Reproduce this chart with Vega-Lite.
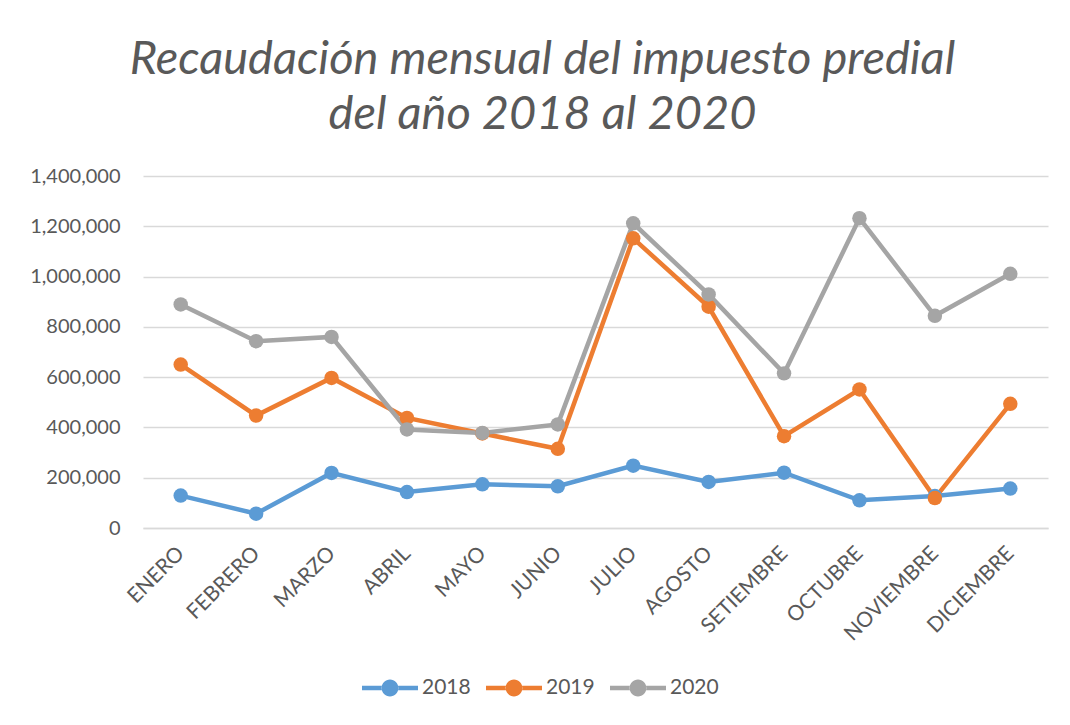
{
  "$schema": "https://vega.github.io/schema/vega-lite/v6.json",
  "width": 905,
  "height": 352,
  "autosize": "none",
  "padding": {"left": 143, "top": 176, "right": 22, "bottom": 197},
  "background": "white",
  "title": {
    "text": ["Recaudación mensual del impuesto predial", "del año 2018 al 2020"],
    "font": "Lato",
    "fontSize": 47,
    "fontStyle": "italic",
    "fontWeight": "normal",
    "color": "#595959",
    "lineHeight": 55,
    "anchor": "middle",
    "frame": "group",
    "dx": -53,
    "offset": 27
  },
  "data": {
    "values": [
      {"mes": "ENERO", "anio": "2018", "valor": 129000},
      {"mes": "FEBRERO", "anio": "2018", "valor": 57000},
      {"mes": "MARZO", "anio": "2018", "valor": 219000},
      {"mes": "ABRIL", "anio": "2018", "valor": 143000},
      {"mes": "MAYO", "anio": "2018", "valor": 174000},
      {"mes": "JUNIO", "anio": "2018", "valor": 166000},
      {"mes": "JULIO", "anio": "2018", "valor": 248000},
      {"mes": "AGOSTO", "anio": "2018", "valor": 183000},
      {"mes": "SETIEMBRE", "anio": "2018", "valor": 220000},
      {"mes": "OCTUBRE", "anio": "2018", "valor": 110000},
      {"mes": "NOVIEMBRE", "anio": "2018", "valor": 127000},
      {"mes": "DICIEMBRE", "anio": "2018", "valor": 157000},
      {"mes": "ENERO", "anio": "2019", "valor": 650000},
      {"mes": "FEBRERO", "anio": "2019", "valor": 447000},
      {"mes": "MARZO", "anio": "2019", "valor": 597000},
      {"mes": "ABRIL", "anio": "2019", "valor": 438000},
      {"mes": "MAYO", "anio": "2019", "valor": 376000},
      {"mes": "JUNIO", "anio": "2019", "valor": 315000},
      {"mes": "JULIO", "anio": "2019", "valor": 1152000},
      {"mes": "AGOSTO", "anio": "2019", "valor": 880000},
      {"mes": "SETIEMBRE", "anio": "2019", "valor": 365000},
      {"mes": "OCTUBRE", "anio": "2019", "valor": 551000},
      {"mes": "NOVIEMBRE", "anio": "2019", "valor": 119000},
      {"mes": "DICIEMBRE", "anio": "2019", "valor": 494000},
      {"mes": "ENERO", "anio": "2020", "valor": 889000},
      {"mes": "FEBRERO", "anio": "2020", "valor": 743000},
      {"mes": "MARZO", "anio": "2020", "valor": 760000},
      {"mes": "ABRIL", "anio": "2020", "valor": 392000},
      {"mes": "MAYO", "anio": "2020", "valor": 378000},
      {"mes": "JUNIO", "anio": "2020", "valor": 412000},
      {"mes": "JULIO", "anio": "2020", "valor": 1212000},
      {"mes": "AGOSTO", "anio": "2020", "valor": 929000},
      {"mes": "SETIEMBRE", "anio": "2020", "valor": 615000},
      {"mes": "OCTUBRE", "anio": "2020", "valor": 1232000},
      {"mes": "NOVIEMBRE", "anio": "2020", "valor": 844000},
      {"mes": "DICIEMBRE", "anio": "2020", "valor": 1011000}
    ]
  },
  "encoding": {
    "x": {
      "field": "mes",
      "type": "nominal",
      "sort": ["ENERO", "FEBRERO", "MARZO", "ABRIL", "MAYO", "JUNIO", "JULIO", "AGOSTO", "SETIEMBRE", "OCTUBRE", "NOVIEMBRE", "DICIEMBRE"],
      "scale": {"type": "point", "padding": 0.5},
      "axis": {
        "title": null,
        "labelAngle": -45,
        "labelAlign": "right",
        "labelBaseline": "middle",
        "labelFont": "Lato",
        "labelFontSize": 21,
        "labelColor": "#595959",
        "labelPadding": 22,
        "ticks": false,
        "domainColor": "#D9D9D9",
        "domainWidth": 1.5,
        "grid": false
      }
    },
    "y": {
      "field": "valor",
      "type": "quantitative",
      "scale": {"domain": [0, 1400000], "nice": false},
      "axis": {
        "title": null,
        "values": [0, 200000, 400000, 600000, 800000, 1000000, 1200000, 1400000],
        "format": ",d",
        "labelFont": "Lato",
        "labelFontSize": 20,
        "labelColor": "#595959",
        "labelPadding": 23,
        "ticks": false,
        "domain": false,
        "gridColor": "#D9D9D9",
        "gridWidth": 1.5
      }
    },
    "color": {
      "field": "anio",
      "type": "nominal",
      "scale": {"domain": ["2018", "2019", "2020"], "range": ["#5B9BD5", "#ED7D31", "#A5A5A5"]},
      "legend": {
        "title": null,
        "orient": "none",
        "legendX": 219,
        "legendY": 484,
        "direction": "horizontal",
        "labelFont": "Lato",
        "labelFontSize": 21,
        "labelColor": "#595959",
        "labelOffset": 4,
        "columnPadding": 15,
        "symbolType": "M-1,-0.08H-0.29V0.08H-1Z M0.29,-0.08H1V0.08H0.29Z M-0.3,0A0.3,0.3 0 1,0 0.3,0A0.3,0.3 0 1,0 -0.3,0Z",
        "symbolSize": 3136,
        "symbolStrokeWidth": 0,
        "encode": {
          "symbols": {
            "update": {
              "fill": {"scale": "color", "field": "value"},
              "stroke": {"value": "transparent"},
              "opacity": {"value": 1}
            }
          }
        }
      }
    }
  },
  "layer": [
    {"mark": {"type": "line", "strokeWidth": 4.5}},
    {"mark": {"type": "point", "filled": true, "size": 210, "opacity": 1}}
  ],
  "config": {
    "view": {"stroke": null}
  }
}
